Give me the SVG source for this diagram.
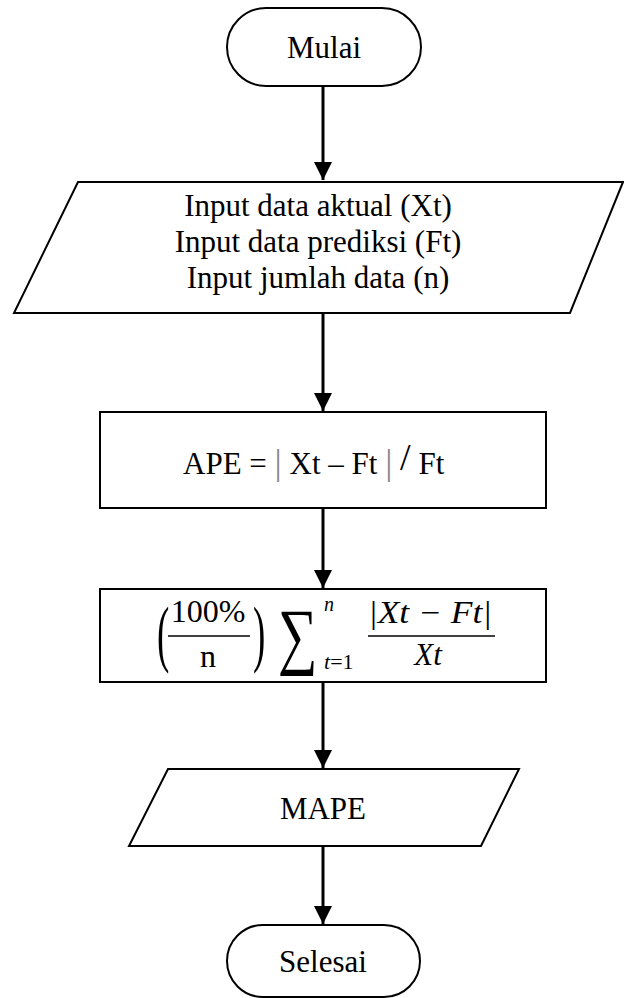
<svg xmlns="http://www.w3.org/2000/svg" width="624" height="998" viewBox="0 0 624 998">
<style>
.shape{fill:#fff;stroke:#000;stroke-width:2}
.t{font-family:"Liberation Serif","Times New Roman",serif;font-size:31px;fill:#000;text-anchor:middle}
.m{font-family:"Liberation Serif","Times New Roman",serif;fill:#000}
.conn{stroke:#000;stroke-width:3;fill:none}
</style>
<defs>
<marker id="ah" markerWidth="6" markerHeight="6" refX="6" refY="3" orient="auto" markerUnits="strokeWidth">
<path d="M0,0 L6,3 L0,6 Z" fill="#000"/>
</marker>
</defs>
<rect width="624" height="998" fill="#fff"/>
<g id="connectors">
<line class="conn" x1="323" y1="86" x2="323" y2="180" marker-end="url(#ah)"/>
<line class="conn" x1="323" y1="313" x2="323" y2="411" marker-end="url(#ah)"/>
<line class="conn" x1="323" y1="508" x2="323" y2="588" marker-end="url(#ah)"/>
<line class="conn" x1="323" y1="682" x2="323" y2="768" marker-end="url(#ah)"/>
<line class="conn" x1="323" y1="846" x2="323" y2="924" marker-end="url(#ah)"/>
</g>
<g id="mulai">
<rect class="shape" x="227" y="8" width="194" height="78" rx="39" ry="39"/>
<text class="t" x="324" y="58">Mulai</text>
</g>
<g id="input">
<polygon class="shape" points="78,182 623,182 570,313 14,313"/>
<text class="t" x="318" y="216">Input data aktual (Xt)</text>
<text class="t" x="318" y="252">Input data prediksi (Ft)</text>
<text class="t" x="318" y="288">Input jumlah data (n)</text>
</g>
<g id="ape">
<rect class="shape" x="100" y="412" width="446" height="96"/>
<text class="m" x="183" y="474" font-size="31">APE = <tspan fill="#888" font-size="36">|</tspan> Xt – Ft <tspan fill="#888" font-size="36">|</tspan> <tspan dy="-4" font-size="38">/</tspan><tspan dy="4"> Ft</tspan></text>
</g>
<g id="mape-formula">
<rect class="shape" x="100" y="589" width="446" height="93"/>
<text class="m" x="157" y="658" font-size="74" transform="translate(157 658) scale(0.5 1) translate(-157 -658)">(</text>
<text class="m" x="208" y="622" font-size="32" text-anchor="middle">100%</text>
<line x1="168" y1="636" x2="250" y2="636" stroke="#000" stroke-width="1.5"/>
<text class="m" x="208" y="667" font-size="32" text-anchor="middle">n</text>
<text class="m" x="253" y="658" font-size="74" transform="translate(253 658) scale(0.5 1) translate(-253 -658)">)</text>
<text class="m" x="278" y="660" font-size="74" transform="translate(278 660) scale(0.75 1) translate(-278 -660)">∑</text>
<text class="m" x="324" y="611" font-size="20" font-style="italic">n</text>
<text class="m" x="324" y="669" font-size="22"><tspan font-style="italic">t</tspan>=1</text>
<text class="m" x="368" y="623" font-size="31" font-style="italic" textLength="124" lengthAdjust="spacingAndGlyphs">|Xt − Ft|</text>
<line x1="368" y1="636" x2="495" y2="636" stroke="#000" stroke-width="1.5"/>
<text class="m" x="428" y="665" font-size="31" font-style="italic" text-anchor="middle">Xt</text>
</g>
<g id="mape">
<polygon class="shape" points="168,769 519,769 481,846 129,846"/>
<text class="t" x="323" y="819">MAPE</text>
</g>
<g id="selesai">
<rect class="shape" x="227" y="925" width="193" height="72" rx="36" ry="36"/>
<text class="t" x="323" y="972">Selesai</text>
</g>
</svg>
